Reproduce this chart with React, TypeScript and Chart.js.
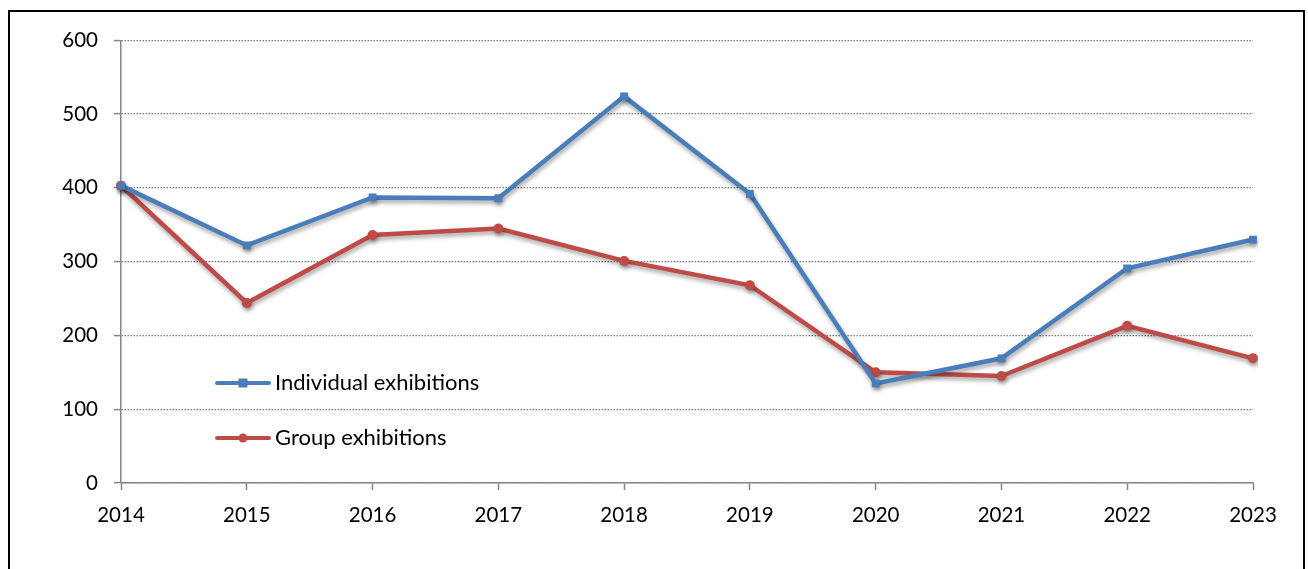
import React, { useEffect, useRef } from "react";
import { Chart, registerables } from "chart.js";

Chart.register(...registerables);

const years = ["2014", "2015", "2016", "2017", "2018", "2019", "2020", "2021", "2022", "2023"];
const individualExhibitions = [403, 322, 387, 386, 524, 392, 135, 169, 291, 330];
const groupExhibitions = [403, 244, 336, 345, 301, 268, 150, 145, 213, 169];
const seriesNames = ["Individual exhibitions", "Group exhibitions"];

const BLUE = "#4A7EBB";
const RED = "#BE4B48";
const GRAY = "#868686";
const FONT = "Lato, 'Open Sans', sans-serif";

const shadowPlugin = {
  id: "lineShadow",
  beforeDatasetDraw(chart: any) {
    const ctx = chart.ctx;
    ctx.save();
    ctx.shadowColor = "rgba(0,0,0,0.35)";
    ctx.shadowBlur = 4;
    ctx.shadowOffsetX = 1;
    ctx.shadowOffsetY = 3;
  },
  afterDatasetDraw(chart: any) {
    chart.ctx.restore();
  },
};

const legendPlugin = {
  id: "insideLegend",
  afterDraw(chart: any) {
    const ctx = chart.ctx;
    const items = [
      { label: seriesNames[0], color: BLUE, style: "rect", y: 371 },
      { label: seriesNames[1], color: RED, style: "circle", y: 426 },
    ];
    ctx.save();
    for (const it of items) {
      ctx.strokeStyle = it.color;
      ctx.fillStyle = it.color;
      ctx.lineWidth = 4;
      ctx.lineCap = "round";
      ctx.beginPath();
      ctx.moveTo(207, it.y);
      ctx.lineTo(259, it.y);
      ctx.stroke();
      if (it.style === "rect") {
        ctx.fillRect(233 - 4.5, it.y - 4.5, 9, 9);
      } else {
        ctx.beginPath();
        ctx.arc(233, it.y, 4.5, 0, Math.PI * 2);
        ctx.fill();
      }
      ctx.fillStyle = "#000";
      ctx.font = `22px ${FONT}`;
      ctx.textAlign = "left";
      ctx.textBaseline = "middle";
      ctx.fillText(it.label, 265, it.y);
    }
    ctx.restore();
  },
};

export default function App() {
  const ref = useRef<HTMLCanvasElement | null>(null);
  useEffect(() => {
    if (!ref.current) return;
    const chart = new Chart(ref.current, {
      type: "line",
      data: {
        labels: years,
        datasets: [
          {
            label: seriesNames[0],
            data: individualExhibitions,
            borderColor: BLUE,
            backgroundColor: BLUE,
            borderWidth: 4.5,
            pointStyle: "rect",
            pointRadius: 5.5,
            pointBorderWidth: 0,
            tension: 0,
          },
          {
            label: seriesNames[1],
            data: groupExhibitions,
            borderColor: RED,
            backgroundColor: RED,
            borderWidth: 4.5,
            pointStyle: "circle",
            pointRadius: 5,
            pointBorderWidth: 0,
            tension: 0,
          },
        ],
      },
      options: {
        animation: false,
        responsive: false,
        layout: { padding: { left: 0, right: 50, top: 28, bottom: 0 } },
        plugins: { legend: { display: false }, tooltip: { enabled: false } },
        scales: {
          x: {
            offset: false,
            grid: {
              drawOnChartArea: false,
              drawTicks: true,
              tickLength: 7,
              tickColor: GRAY,
              tickWidth: 1.5,
            },
            border: { color: GRAY, width: 1.5 },
            ticks: {
              color: "#000",
              font: { family: FONT, size: 20.5 },
              padding: 13,
              maxRotation: 0,
              autoSkip: false,
            },
            afterFit(scale: any) {
              scale.height = 85;
            },
          },
          y: {
            min: 0,
            max: 600,
            ticks: {
              stepSize: 100,
              color: "#000",
              font: { family: FONT, size: 20.5 },
              padding: 16,
            },
            grid: {
              color: "#7a7a7a",
              lineWidth: 1.2,
              tickLength: 7,
              tickColor: GRAY,
              tickWidth: 1.5,
              tickBorderDash: [],
            },
            border: { color: GRAY, width: 1.5, dash: [1.5, 1.5] },
            afterFit(scale: any) {
              scale.width = 111;
            },
          },
        },
      },
      plugins: [shadowPlugin, legendPlugin],
    });
    return () => chart.destroy();
  }, []);

  return (
    <div
      style={{
        position: "absolute",
        left: 8,
        top: 10,
        width: 1293,
        height: 580,
        border: "2px solid #000",
        background: "#fff",
      }}
    >
      <canvas ref={ref} width={1293} height={556} style={{ display: "block" }} />
    </div>
  );
}
